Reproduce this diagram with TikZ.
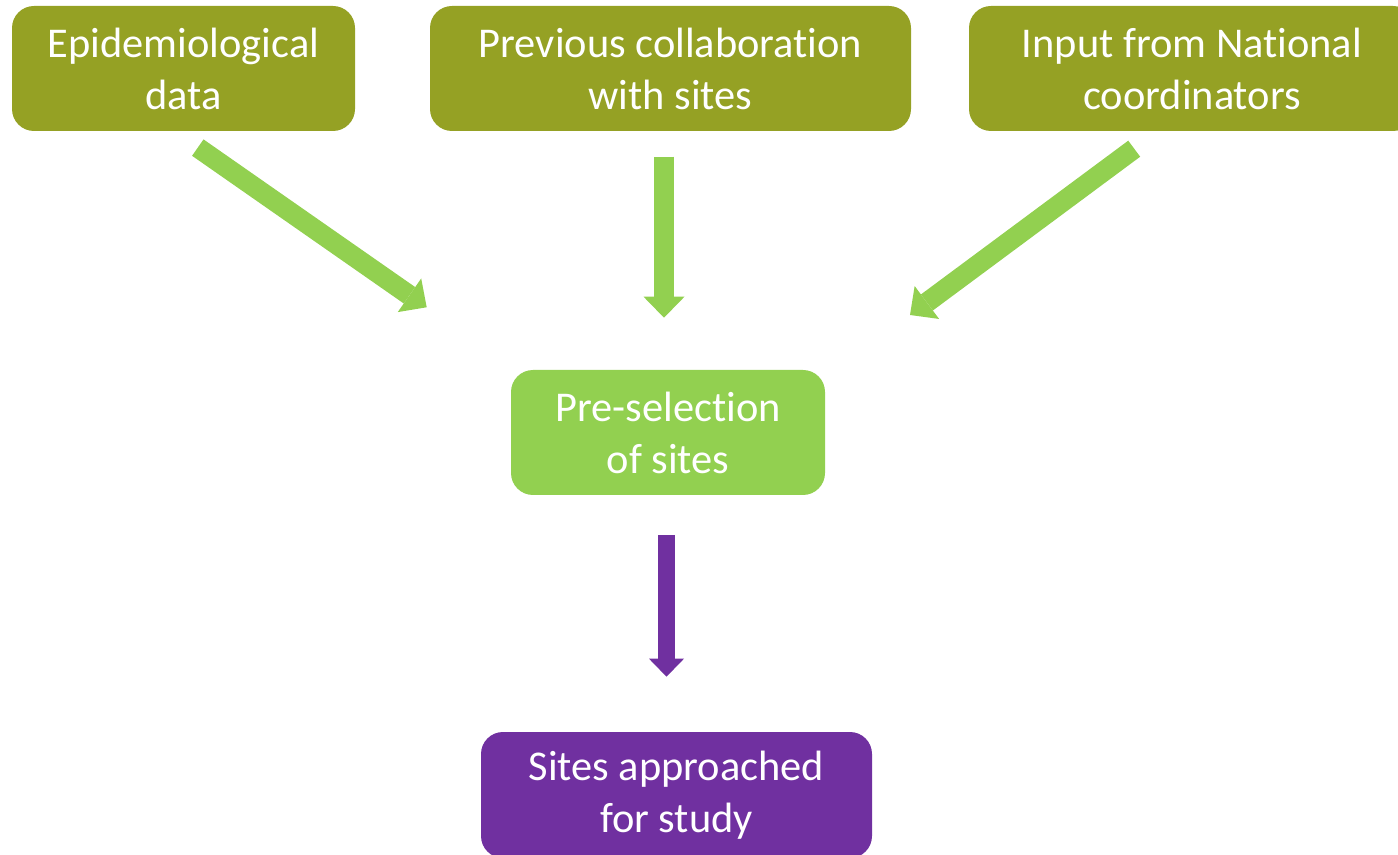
\documentclass[tikz,border=0pt]{standalone}
\usepackage{fontspec}
\setmainfont{Carlito}[Ligatures=NoCommon]
\usetikzlibrary{arrows.meta}
\definecolor{olivebox}{HTML}{95A124}
\definecolor{greenbox}{HTML}{92D050}
\definecolor{purplebox}{HTML}{7030A0}
\tikzset{
	flowbox/.style={rounded corners=11pt, text=white, align=center, inner sep=0pt, minimum height=62.5pt, font=\fontsize{21.2}{26}\selectfont},
	greenarrow/.style={draw=greenbox, line width=10pt, -{Triangle[length=10.5pt,width=20.5pt,line width=0pt]}},
	purplearrow/.style={draw=purplebox, line width=8.5pt, -{Triangle[length=9pt,width=17.5pt,line width=0pt]}},
}
\begin{document}
\begin{tikzpicture}[x=0.5pt,y=-0.5pt]
	\useasboundingbox (0,0) rectangle (1398,855);
	
	%Shape: Rounded Rect
	\node (epi) [flowbox, fill=olivebox, minimum width=171.5pt] at (183.5,68.5) {Epidemiological\\data};
	%Shape: Rounded Rect
	\node (prev) [flowbox, fill=olivebox, minimum width=240.5pt] at (670.5,68.5) {Previous collaboration\\with sites};
	%Shape: Rounded Rect
	\node (input) [flowbox, fill=olivebox, minimum width=223pt] at (1192,68.5) {Input from National\\coordinators};
	%Shape: Rounded Rect
	\node (presel) [flowbox, fill=greenbox, minimum width=157pt] at (668,432.5) {Pre-selection\\of sites};
	%Shape: Rounded Rect
	\node (approach) [flowbox, fill=purplebox, minimum width=195.5pt, minimum height=63pt] at (676.5,795) {Sites approached\\for study};
	
	%Arrow ends
	\coordinate (epiout) at (197.8,147.6);
	\coordinate (epiin) at (426.7,307.3);
	\coordinate (prevout) at (664,156.7);
	\coordinate (previn) at (664,317.7);
	\coordinate (inputout) at (1134.2,148.7);
	\coordinate (inputin) at (910,315);
	\coordinate (preselout) at (666.5,535);
	\coordinate (preselin) at (666.5,676.7);
	
	%Block Arrows
	\draw [greenarrow] (epiout) -- (epiin);
	\draw [greenarrow] (prevout) -- (previn);
	\draw [greenarrow] (inputout) -- (inputin);
	\draw [purplearrow] (preselout) -- (preselin);
	
\end{tikzpicture}
\end{document}
